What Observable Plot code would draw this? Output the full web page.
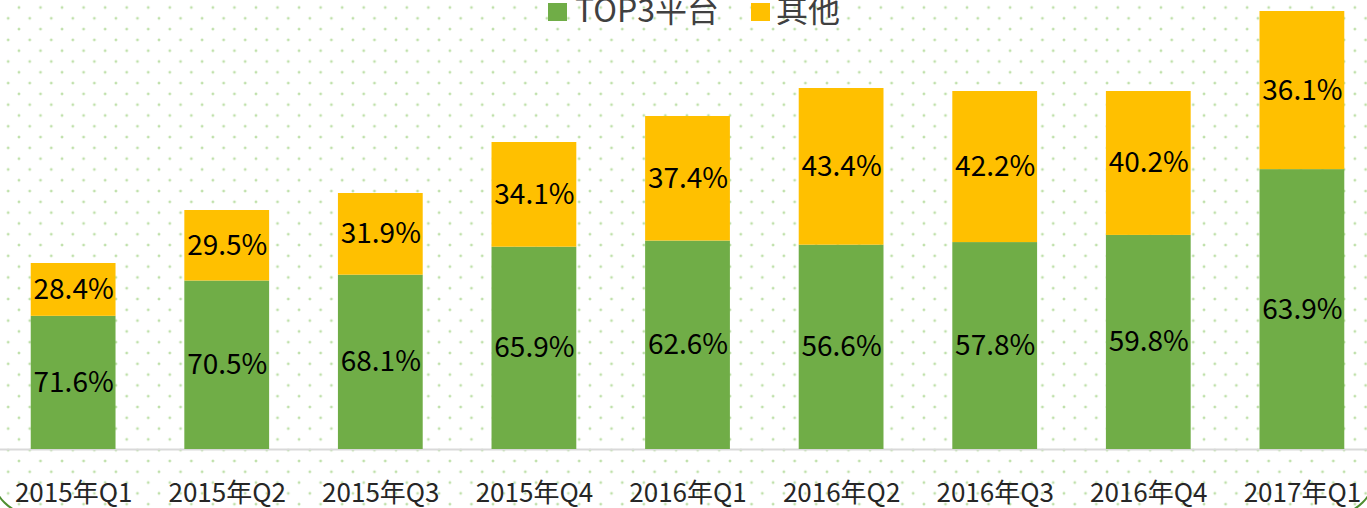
<!DOCTYPE html>
<html><head><meta charset="utf-8">
<script src="https://cdn.jsdelivr.net/npm/d3@7"></script>
<script src="https://cdn.jsdelivr.net/npm/@observablehq/plot@0.6"></script>
<style>
html,body{margin:0;padding:0;width:1367px;height:508px;overflow:hidden;background:#fff;}
#wrap{position:relative;width:1367px;height:508px;overflow:hidden;
 background-image: radial-gradient(circle at center, #bfe0aa 0, #bfe0aa 0.9px, rgba(255,255,255,0) 1.8px), radial-gradient(circle at center, #bfe0aa 0, #bfe0aa 0.9px, rgba(255,255,255,0) 1.8px);
 background-size: 21.55px 21.6px, 21.55px 21.6px;
 background-position: 8.2px -3.3px, -2.6px 7.5px;}
#chart{position:absolute;left:0;top:0;}
.sw{position:absolute;width:19px;height:18px;}
.lt{position:absolute;font-family:"Noto Sans CJK SC";font-size:32px;line-height:32px;color:#404040;white-space:nowrap;}
#corner{position:absolute;left:-8px;right:-8px;top:-100px;bottom:-7px;border:2px solid #4f8f30;border-radius:40px;pointer-events:none;}
</style>
</head><body>
<div id="wrap">
 <div id="chart"></div>
 <div id="legend"></div>
 <div id="corner"></div>
</div>
<script>
const quarters = ["2015年Q1","2015年Q2","2015年Q3","2015年Q4","2016年Q1","2016年Q2","2016年Q3","2016年Q4","2017年Q1"];
const top3Share = [71.6,70.5,68.1,65.9,62.6,56.6,57.8,59.8,63.9];
const otherShare = [28.4,29.5,31.9,34.1,37.4,43.4,42.2,40.2,36.1];
const totals = [186,239,256,307,333,361,358,358,438];
const seriesNames = ["TOP3平台","其他"];
const seriesColors = ["#70AD47","#FFC000"];

const rows = quarters.flatMap((q,i)=>[
  {quarter:q, series:seriesNames[0], share:top3Share[i], value:totals[i]*top3Share[i]/100},
  {quarter:q, series:seriesNames[1], share:otherShare[i], value:totals[i]*otherShare[i]/100}
]);

const chart = Plot.plot({
  width:1367, height:508,
  marginTop:0, marginBottom:59, marginLeft:0, marginRight:0,
  style:{background:"transparent", fontFamily:"Noto Sans CJK SC", overflow:"visible"},
  x:{domain:quarters, paddingInner:0.448, paddingOuter:0.174, align:0.575, round:false, label:null},
  y:{domain:[0,449], axis:null},
  color:{domain:seriesNames, range:seriesColors},
  marks:[
    Plot.ruleY([0], {stroke:"#d9d9d9", strokeWidth:2}),
    Plot.barY(rows, {x:"quarter", y:"value", fill:"series"}),
    Plot.text(rows, Plot.stackY({x:"quarter", y:"value", z:"series", text:d=>d.share.toFixed(1)+"%", fill:"#000", fontSize:28})),
    Plot.axisX({tickSize:0, tickPadding:34, fontSize:26, color:"#262626", label:null})
  ]
});
document.getElementById("chart").appendChild(chart);

const legend = document.getElementById("legend");
const items = [
  {name:seriesNames[0], color:seriesColors[0], sx:548, tx:575},
  {name:seriesNames[1], color:seriesColors[1], sx:751, tx:776}
];
items.forEach(it=>{
  const s=document.createElement("div"); s.className="sw"; s.style.left=it.sx+"px"; s.style.top="3px"; s.style.background=it.color; legend.appendChild(s);
  const t=document.createElement("div"); t.className="lt"; t.style.left=it.tx+"px"; t.style.top="-8px"; t.textContent=it.name; legend.appendChild(t);
});
</script>
</body></html>
